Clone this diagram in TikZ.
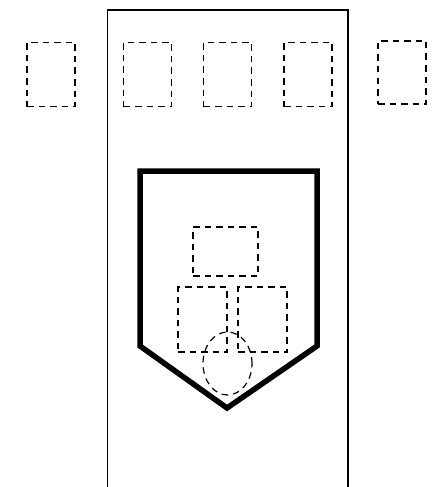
\documentclass[tikz,border=0pt]{standalone}
\usetikzlibrary{shapes.geometric}
\begin{document}
\begin{tikzpicture}[x=1pt,y=-1pt,
  dbox/.style={draw,dash pattern=on 6.5pt off 5pt,line width=1.5pt,inner sep=0pt},
  frame/.style={draw,line width=1.3pt},
  shield/.style={draw,line width=5.5pt,line join=miter}]
\useasboundingbox (0,0) rectangle (432,487);
% outer frame (open at bottom)
\coordinate (fbl) at (107.5,490);
\coordinate (ftl) at (107.5,10);
\coordinate (ftr) at (348,10);
\coordinate (fbr) at (348,490);
\draw[frame] (fbl) -- (ftl) -- (ftr) -- (fbr);
% top row of dashed boxes
\node[dbox,minimum width=48pt,minimum height=64pt] (b1) at (51,74.5) {};
\node[dbox,minimum width=48pt,minimum height=64pt] (b2) at (147.5,74.5) {};
\node[dbox,minimum width=48pt,minimum height=64pt] (b3) at (227.5,74.5) {};
\node[dbox,minimum width=48pt,minimum height=64pt] (b4) at (308,74.5) {};
\node[dbox,minimum width=48pt,minimum height=63pt] (b5) at (402,72.5) {};
% shield
\draw[shield] (140,171) -- (317,171) -- (317,346) -- (227,408) -- (140,346) -- cycle;
% inner dashed boxes
\node[dbox,minimum width=65pt,minimum height=49pt] (top) at (225.5,251.5) {};
\node[dbox,minimum width=49pt,minimum height=65pt] (left) at (202.5,319.5) {};
\node[dbox,minimum width=49pt,minimum height=65pt] (right) at (262.5,319.5) {};
\node[dbox,ellipse,line width=1.2pt,minimum width=49pt,minimum height=63pt] (ell) at (227.5,363.5) {};
\end{tikzpicture}
\end{document}
